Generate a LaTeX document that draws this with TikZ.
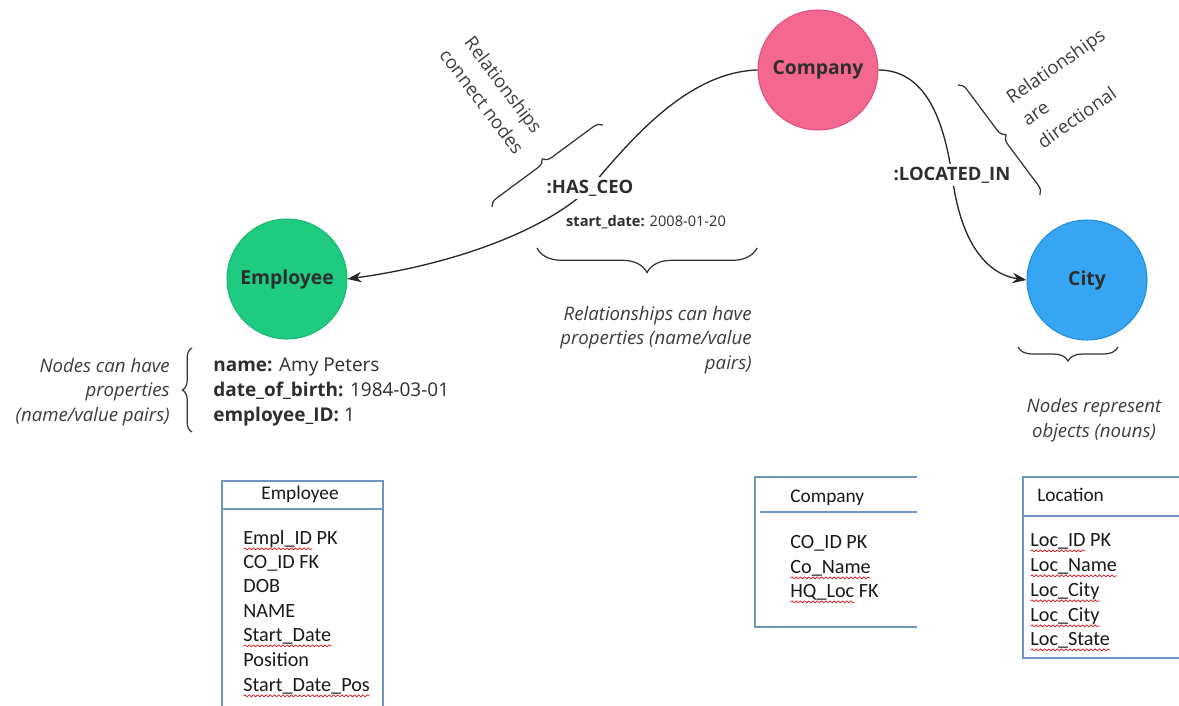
\documentclass[tikz,border=0pt]{standalone}
\usepackage{fontspec}
\setmainfont{Open Sans}
\newfontfamily\tabfont{Carlito}
\usetikzlibrary{decorations.pathreplacing,decorations.pathmorphing,arrows.meta}
\definecolor{cpink}{HTML}{F4678F}
\definecolor{cpinkd}{HTML}{E0507A}
\definecolor{cblue}{HTML}{36A6F2}
\definecolor{cblued}{HTML}{1F8DDB}
\definecolor{cgreen}{HTML}{1ECB80}
\definecolor{cgreend}{HTML}{19B872}
\definecolor{tblline}{HTML}{6E96BE}
\definecolor{txt}{HTML}{2E2E2E}
\definecolor{note}{HTML}{3C3C3C}
\newcommand\redwave[1]{\begingroup\setbox0=\hbox{#1}\rlap{\raisebox{-3pt}{\tikz[x=1pt,y=1pt]\draw[red!85!black, line width=0.35pt, decorate, decoration={snake,amplitude=0.55pt,segment length=2.4pt}] (0pt,0pt) -- (\the\wd0,0pt);}}\box0\endgroup}
\begin{document}
\begin{tikzpicture}[x=0.02cm,y=-0.02cm,
  gnode/.style={circle, minimum size=2.4cm, inner sep=0pt, line width=0.6pt,
    font=\fontsize{11}{13}\selectfont\bfseries, text=txt},
  rel/.style={line width=0.75pt, draw=black!85, -{Stealth[length=8pt,width=6pt]}},
  rlabel/.style={fill=white, inner sep=1.5pt, font=\fontsize{10.5}{13}\selectfont\bfseries, text=txt},
  brc/.style={decorate, decoration={brace, amplitude=#1}, line width=0.7pt, draw=black!80},
  notetxt/.style={font=\fontsize{10.6}{14}\selectfont\itshape, text=note},
  rottxt/.style={font=\fontsize{10.5}{15.5}\selectfont, text=note},
  tbl/.style={draw=tblline, line width=0.7pt},
  tbltxt/.style={font=\tabfont\fontsize{11.5}{13}\selectfont, text=black!90, inner sep=0pt,
    text height=8pt, text depth=2.5pt, anchor=west}
]
\useasboundingbox (0,0) rectangle (1179,706);

% graph nodes
\node[gnode, fill=cpink, draw=cpinkd] (company) at (818,70) {Company};
\node[gnode, fill=cblue, draw=cblued] (city) at (1087,280) {City};
\node[gnode, fill=cgreen, draw=cgreend] (employee) at (287,279) {Employee};

% relationships
\draw[rel] (company.180) .. controls (690,72) and (635,135) .. (595,182)
  .. controls (560,222) and (470,262) .. (employee.0);
\node[rlabel] (hasceo) at (590,188) {:HAS\_CEO};
\draw[rel] (company.0) .. controls (930,70) and (945,130) .. (952,175)
  .. controls (960,240) and (985,274) .. (city.180);
\node[rlabel] (locin) at (952,175) {:LOCATED\_IN};

\node[font=\fontsize{8.3}{10}\selectfont, text=txt] (startdate) at (646,222) {\textbf{start\_date:} 2008-01-20};

% braces
\draw[brc=5pt] (492,207) -- (603,125);
\draw[brc=5pt] (958,85) -- (1040,195);
\draw[brc=14pt] (757,248) -- (537,248);
\draw[brc=8pt] (1118,347) -- (1018,347);
\draw[brc=5.5pt] (192,432) -- (192,348);

% annotations
\node[rottxt, rotate=-53, align=center] (connnote) at (493,93) {Relationships\\connect nodes};
\node[rottxt, rotate=35, align=left] (dirnote) at (1071,88) {Relationships\\are\\directional};
\node[notetxt, align=right, anchor=east, inner sep=0pt] (relprop) at (752,340) {Relationships can have\\properties (name/value\\pairs)};
\node[notetxt, align=center] (objnote) at (1094,420) {Nodes represent\\objects (nouns)};
\node[notetxt, align=right, anchor=east, inner sep=0pt] (nodeprop) at (170,392) {Nodes can have\\properties\\(name/value pairs)};
\node[font=\fontsize{10.8}{14.2}\selectfont, text=txt, align=left, anchor=west, inner sep=0pt] (props) at (213,392)
  {\textbf{name:} Amy Peters\\\textbf{date\_of\_birth:} 1984-03-01\\\textbf{employee\_ID:} 1};

% tables
\draw[tbl] (222,712) -- (222,481) -- (383,481) -- (383,712);
\draw[tbl] (222,509) -- (383,509);
\node[tbltxt, anchor=center, font=\tabfont\fontsize{11}{13}\selectfont] (emph) at (300,495) {Employee};
\foreach \t/\y [count=\i] in {{\redwave{Empl\_ID} PK}/540, {CO\_ID FK}/564, {DOB}/588, {NAME}/613,
   {\redwave{Start\_Date}}/637, {Position}/662, {\redwave{Start\_Date\_Pos}}/687}
  \node[tbltxt] (emp\i) at (243,\y) {\t};

\draw[tbl] (917,477) -- (755,477) -- (755,627) -- (917,627);
\draw[tbl] (760,512) -- (917,512);
\node[tbltxt, font=\tabfont\fontsize{11}{13}\selectfont] (coh) at (790,498) {Company};
\foreach \t/\y [count=\i] in {{CO\_ID PK}/544, {\redwave{Co\_Name}}/569, {\redwave{HQ\_Loc} FK}/593}
  \node[tbltxt] (co\i) at (790,\y) {\t};

\draw[tbl] (1179,477) -- (1023,477) -- (1023,658) -- (1179,658);
\draw[tbl] (1023,516) -- (1179,516);
\node[tbltxt, font=\tabfont\fontsize{11}{13}\selectfont] (loch) at (1037,497) {Location};
\foreach \t/\y [count=\i] in {{\redwave{Loc\_ID} PK}/542, {\redwave{Loc\_Name}}/567, {\redwave{Loc\_City}}/592,
   {\redwave{Loc\_City}}/617, {\redwave{Loc\_State}}/641}
  \node[tbltxt] (loc\i) at (1030,\y) {\t};
\end{tikzpicture}
\end{document}
